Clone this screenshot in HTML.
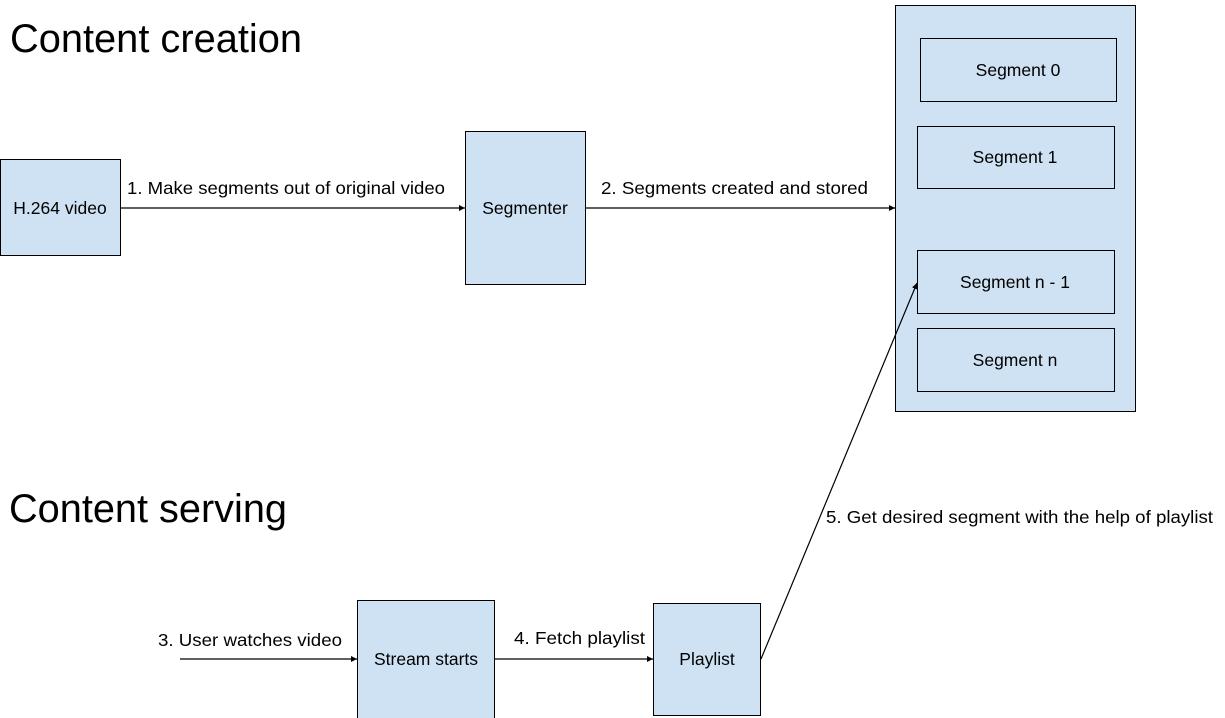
<!DOCTYPE html>
<html><head><meta charset="utf-8"><style>
body{margin:0;background:#fff;width:1225px;height:718px;overflow:hidden}
svg{display:block}
text{font-family:"Liberation Sans",Arial,sans-serif;fill:#000}
.b{fill:#cfe2f3;stroke:#000;stroke-width:1}
.l{stroke:#000;stroke-width:1.2;fill:none}
</style></head><body>
<svg width="1225" height="718" viewBox="0 0 1225 718">
<defs><marker id="a" markerWidth="8" markerHeight="8" refX="6" refY="3" orient="auto" markerUnits="userSpaceOnUse"><path d="M0,0 L6,3 L0,6 z" fill="#000"/></marker></defs>
<text x="10" y="52" font-size="39.5" textLength="292" lengthAdjust="spacingAndGlyphs">Content creation</text>
<text x="9" y="522" font-size="39.5" textLength="278" lengthAdjust="spacingAndGlyphs">Content serving</text>
<rect class="b" x="0.5" y="159.5" width="120" height="96"/>
<text x="60" y="214" font-size="17.5" text-anchor="middle">H.264 video</text>
<rect class="b" x="465.5" y="131.5" width="120" height="153"/>
<text x="525" y="214" font-size="17.5" text-anchor="middle">Segmenter</text>
<rect class="b" x="895.5" y="5.5" width="240" height="406"/>
<rect class="b" x="920.5" y="38.5" width="196" height="63"/>
<text x="1018" y="76" font-size="17.5" text-anchor="middle">Segment 0</text>
<rect class="b" x="917.5" y="126.5" width="197" height="62"/>
<text x="1015" y="163" font-size="17.5" text-anchor="middle">Segment 1</text>
<rect class="b" x="917.5" y="250.5" width="197" height="63"/>
<text x="1015" y="288" font-size="17.5" text-anchor="middle">Segment n - 1</text>
<rect class="b" x="917.5" y="328.5" width="197" height="63"/>
<text x="1015" y="366" font-size="17.5" text-anchor="middle">Segment n</text>
<rect class="b" x="357.5" y="600.5" width="137" height="125"/>
<text x="426" y="665" font-size="17.5" text-anchor="middle">Stream starts</text>
<rect class="b" x="653.5" y="603.5" width="107" height="112"/>
<text x="707" y="665" font-size="17.5" text-anchor="middle">Playlist</text>
<line class="l" x1="121" y1="208" x2="465" y2="208" marker-end="url(#a)"/>
<line class="l" x1="586" y1="208" x2="895" y2="208" marker-end="url(#a)"/>
<line class="l" x1="180" y1="659" x2="357" y2="659" marker-end="url(#a)"/>
<line class="l" x1="495" y1="659" x2="653" y2="659" marker-end="url(#a)"/>
<line class="l" x1="761" y1="659" x2="917" y2="283" marker-end="url(#a)"/>
<text x="127" y="194" font-size="17.5" textLength="318" lengthAdjust="spacingAndGlyphs">1. Make segments out of original video</text>
<text x="601" y="194" font-size="17.5" textLength="267" lengthAdjust="spacingAndGlyphs">2. Segments created and stored</text>
<text x="158" y="646" font-size="17.5" textLength="184" lengthAdjust="spacingAndGlyphs">3. User watches video</text>
<text x="514" y="644" font-size="17.5" textLength="131" lengthAdjust="spacingAndGlyphs">4. Fetch playlist</text>
<text x="826" y="523" font-size="17.5" textLength="387" lengthAdjust="spacingAndGlyphs">5. Get desired segment with the help of playlist</text>
</svg>
</body></html>
